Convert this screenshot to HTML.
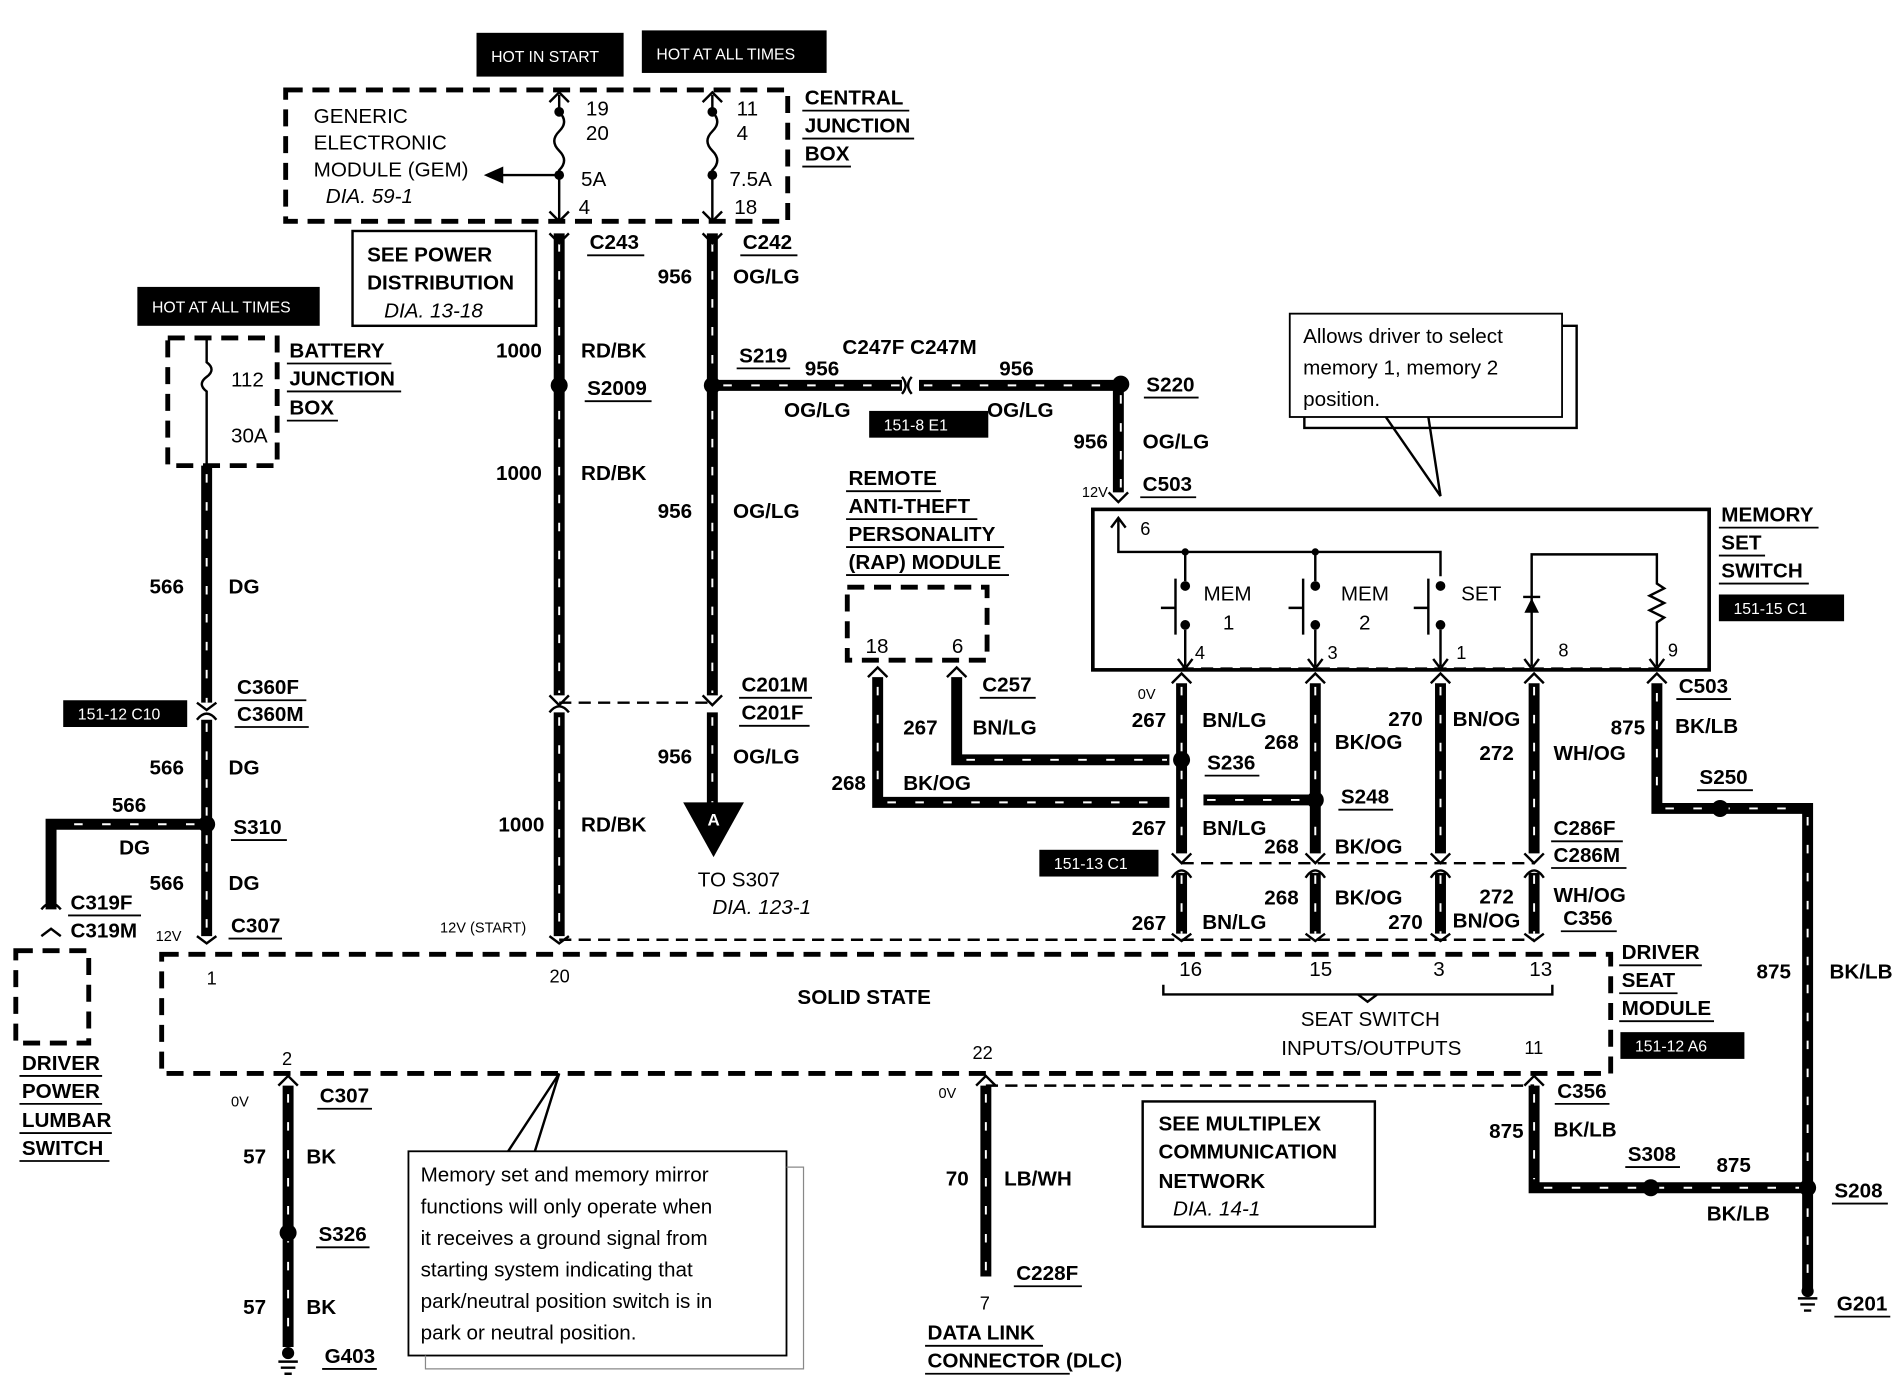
<!DOCTYPE html>
<html><head><meta charset="utf-8"><style>
html,body{margin:0;padding:0;background:#fff}
svg{display:block}
text{font-family:"Liberation Sans",Arial,sans-serif;font-weight:bold;font-size:17px;fill:#000}
.n{font-weight:normal}
.i{font-style:italic;font-weight:normal}
.s{font-size:13px;font-weight:normal;fill:#fff}
.w{stroke:#000;stroke-width:9;fill:none}
.ws{stroke:#fff;stroke-width:1.6;fill:none;stroke-dasharray:7 16}
.d{stroke:#000;stroke-width:4;fill:none;stroke-dasharray:14 8}
.dt{stroke:#000;stroke-width:2;fill:none;stroke-dasharray:10 6}
.l{stroke:#000;stroke-width:2;fill:none}
.u{stroke:#000;stroke-width:1.5}
</style></head><body>
<svg width="1900" height="1392" viewBox="0 0 1563 1145" preserveAspectRatio="none" xmlns="http://www.w3.org/2000/svg">
<!-- top black tags -->
<rect x="392" y="27" width="121" height="36" fill="#000"/><text x="404" y="51" class="s">HOT IN START</text>
<rect x="528" y="25" width="152" height="35" fill="#000"/><text x="540" y="49" class="s">HOT AT ALL TIMES</text>
<rect x="113" y="236" width="150" height="32" fill="#000"/><text x="125" y="257" class="s">HOT AT ALL TIMES</text>
<!-- central junction box -->
<path class="d" d="M235 74H648V182H235Z"/>
<text x="258" y="101" class="n">GENERIC</text><text x="258" y="123" class="n">ELECTRONIC</text><text x="258" y="145" class="n">MODULE (GEM)</text><text x="268" y="167" class="i">DIA. 59-1</text>
<path class="l" d="M460 78v14q8 8 0 16q-8 8 0 16q8 8 0 16v42"/><path class="l" d="M586 78v14q8 8 0 16q-8 8 0 16q8 8 0 16v42"/>
<circle cx="460" cy="92" r="4"/><circle cx="460" cy="144" r="4"/><circle cx="586" cy="92" r="4"/><circle cx="586" cy="144" r="4"/>
<path class="l" d="M452 84l8-8 8 8M452 174l8 8 8-8M578 84l8-8 8 8M578 174l8 8 8-8"/>
<path class="l" stroke-width="3" d="M460 144H410"/><path d="M398 144l16-7v14z"/>
<text x="482" y="95" class="n">19</text><text x="482" y="115" class="n">20</text><text x="478" y="153" class="n">5A</text><text x="476" y="176" class="n">4</text>
<text x="606" y="95" class="n">11</text><text x="606" y="115" class="n">4</text><text x="600" y="153" class="n">7.5A</text><text x="604" y="176" class="n">18</text>
<text x="662" y="86">CENTRAL</text><line class="u" x1="660" y1="91" x2="748" y2="91"/>
<text x="662" y="109">JUNCTION</text><line class="u" x1="660" y1="114" x2="752" y2="114"/>
<text x="662" y="132">BOX</text><line class="u" x1="660" y1="137" x2="700" y2="137"/>
<!-- see power distribution -->
<rect x="290" y="190" width="151" height="78" fill="none" stroke="#000" stroke-width="2"/>
<text x="302" y="215">SEE POWER</text><text x="302" y="238">DISTRIBUTION</text><text x="316" y="261" class="i">DIA. 13-18</text>
<!-- battery junction box -->
<path class="d" d="M138 278H228V383H138Z"/>
<path class="l" d="M170 278v20q8 6 0 12q-8 6 0 12v61"/>
<text x="190" y="318" class="n">112</text><text x="190" y="364" class="n">30A</text>
<text x="238" y="294">BATTERY</text><line class="u" x1="236" y1="299" x2="322" y2="299"/>
<text x="238" y="317">JUNCTION</text><line class="u" x1="236" y1="322" x2="330" y2="322"/>
<text x="238" y="341">BOX</text><line class="u" x1="236" y1="346" x2="278" y2="346"/>
<!-- wires -->
<g>
<path class="w" d="M170 383V578M170 592V770"/><path class="ws" d="M170 390V578M170 595V770"/>
<path class="w" d="M170 678H42V748"/><path class="ws" d="M160 678H46"/>
<path class="w" d="M460 192V572M460 586V770"/><path class="ws" d="M460 200V570M460 590V770"/>
<path class="w" d="M586 192V572M586 586V662"/><path class="ws" d="M586 200V570M586 590V660"/>
<path class="w" d="M586 317H742M756 317H920V405"/><path class="ws" d="M595 317H742M760 317H915M922 325V405"/>
<path class="w" d="M722 557V660H962M787 557V625H962"/><path class="ws" d="M722 565V655M730 660H960M795 625H960"/>
<path class="w" d="M972 562V702M972 718V768M1082 562V702M1082 718V768M1185 562V702M1185 718V768M1262 562V702M1262 718V768"/>
<path class="ws" d="M972 565V700M972 720V768M1082 565V700M1082 720V768M1185 565V700M1185 720V768M1262 565V700M1262 720V768"/>
<path class="w" d="M990 658H1082"/><path class="ws" d="M993 658H1075"/>
<path class="w" d="M1363 562V665H1487V1060"/><path class="ws" d="M1363 570V660M1370 665H1480M1487 672V1060"/>
<path class="w" d="M237 893V1108"/><path class="ws" d="M237 900V1100"/>
<path class="w" d="M811 893V1050"/><path class="ws" d="M811 900V1045"/>
<path class="w" d="M1262 893V977H1487"/><path class="ws" d="M1262 900V970M1270 977H1480"/>
</g>
<!-- connector marks -->
<path class="l" stroke-width="3" d="M452 192l8 8 8-8M578 192l8 8 8-8M162 592q8-10 16 0M162 578l8 6 8-6M452 572l8 8 8-8M578 572l8 8 8-8M452 586q8-10 16 0M34 748q8-10 16 0M34 770l8-6 8 6M912 405l8 8 8-8M162 770l8 6 8-6M452 770l8 6 8-6M714 557l8-8 8 8M779 557l8-8 8 8"/>
<path class="l" stroke-width="3" d="M964 562l8-8 8 8M1074 562l8-8 8 8M1177 562l8-8 8 8M1254 562l8-8 8 8M1355 562l8-8 8 8M964 702l8 8 8-8M1074 702l8 8 8-8M1177 702l8 8 8-8M1254 702l8 8 8-8M964 722q8-12 16 0M1074 722q8-12 16 0M1177 722q8-12 16 0M1254 722q8-12 16 0M964 768l8 6 8-6M1074 768l8 6 8-6M1177 768l8 6 8-6M1254 768l8 6 8-6M229 893l8-8 8 8M803 893l8-8 8 8M1254 893l8-8 8 8"/>
<path d="M742 310q6 7 0 14M750 310q-6 7 0 14" class="l" stroke-width="3"/>
<line class="dt" x1="460" y1="578" x2="586" y2="578"/>
<line class="dt" x1="972" y1="710" x2="1262" y2="710"/>
<line class="dt" x1="972" y1="550" x2="1363" y2="550"/>
<line class="dt" x1="460" y1="773" x2="1262" y2="773"/>
<path class="dt" d="M811 893H1262"/>
<!-- splices -->
<circle cx="460" cy="317" r="7"/><circle cx="586" cy="317" r="7"/><circle cx="922" cy="316" r="7"/><circle cx="170" cy="678" r="7"/>
<circle cx="972" cy="625" r="7"/><circle cx="1082" cy="658" r="7"/><circle cx="1415" cy="665" r="7"/><circle cx="237" cy="1014" r="7"/>
<circle cx="1358" cy="977" r="7"/><circle cx="1487" cy="977" r="7"/>
<!-- A triangle -->
<path d="M562 660H612L587 705Z"/><text x="582" y="679" fill="#fff" style="fill:#fff;font-size:14px">A</text>
<text x="574" y="729" class="n">TO S307</text><text x="586" y="752" class="i">DIA. 123-1</text>
<!-- grounds -->
<g class="l"><path d="M229 1120h16M231 1125h12M234 1130h6M1479 1068h16M1481 1073h12M1484 1078h6"/></g>
<circle cx="237" cy="1113" r="5"/><circle cx="1487" cy="1062" r="5"/>
<!-- rap -->
<path class="d" d="M697 483H812V543H697Z"/>
<text x="712" y="537" class="n">18</text><text x="783" y="537" class="n">6</text>
<text x="698" y="399">REMOTE</text><line class="u" x1="696" y1="404" x2="774" y2="404"/>
<text x="698" y="422">ANTI-THEFT</text><line class="u" x1="696" y1="427" x2="804" y2="427"/>
<text x="698" y="445">PERSONALITY</text><line class="u" x1="696" y1="450" x2="826" y2="450"/>
<text x="698" y="468">(RAP) MODULE</text><line class="u" x1="696" y1="473" x2="830" y2="473"/>
<!-- memory set switch -->
<rect x="899" y="419" width="507" height="132" fill="none" stroke="#000" stroke-width="3"/>
<path class="l" d="M920 426V454H1185V474M975 454V478M1082 454V478M1260 548V456H1363V480l6 4-12 6 12 6-12 6 12 6-6 4V548"/>
<path class="l" d="M914 434l6-8 6 8"/>
<path class="l" d="M975 518V548M1082 518V548M1185 518V548M969 542l6 8 6-8M1076 542l6 8 6-8M1179 542l6 8 6-8M1254 542l6 8 6-8M1357 542l6 8 6-8"/>
<circle cx="975" cy="482" r="4"/><circle cx="975" cy="514" r="4"/><circle cx="1082" cy="482" r="4"/><circle cx="1082" cy="514" r="4"/><circle cx="1185" cy="482" r="4"/><circle cx="1185" cy="514" r="4"/>
<circle cx="975" cy="454" r="3"/><circle cx="1082" cy="454" r="3"/>
<path class="l" d="M967 476V522M955 500H967M1072 476V522M1060 500H1072M1175 476V522M1163 500H1175"/>
<path d="M1254 504h12l-6-12z"/><line class="l" x1="1253" y1="491" x2="1267" y2="491"/>
<text x="990" y="494" class="n">MEM</text><text x="1006" y="518" class="n">1</text>
<text x="1103" y="494" class="n">MEM</text><text x="1118" y="518" class="n">2</text>
<text x="1202" y="494" class="n">SET</text>
<text x="938" y="440" class="n" style="font-size:15px">6</text>
<text x="983" y="542" class="n" style="font-size:15px">4</text><text x="1092" y="542" class="n" style="font-size:15px">3</text><text x="1198" y="542" class="n" style="font-size:15px">1</text><text x="1282" y="540" class="n" style="font-size:15px">8</text><text x="1372" y="540" class="n" style="font-size:15px">9</text>
<text x="1416" y="429">MEMORY</text><line class="u" x1="1414" y1="434" x2="1496" y2="434"/>
<text x="1416" y="452">SET</text><line class="u" x1="1414" y1="457" x2="1452" y2="457"/>
<text x="1416" y="475">SWITCH</text><line class="u" x1="1414" y1="480" x2="1488" y2="480"/>
<rect x="1414" y="489" width="103" height="22" fill="#000"/><text x="1426" y="505" class="s">151-15 C1</text>
<!-- callout top -->
<rect x="1061" y="258" width="224" height="85" fill="#fff" stroke="#000" stroke-width="1.5"/>
<path class="l" stroke-width="1" d="M1285 268h12v84h-224v-9" stroke="#888"/>
<text x="1072" y="282" class="n">Allows driver to select</text><text x="1072" y="308" class="n">memory 1, memory 2</text><text x="1072" y="334" class="n">position.</text>
<path class="l" stroke-width="1.5" d="M1140 343L1185 408L1175 343"/>
<!-- solid state module -->
<path class="d" d="M133 785H1325V883H133Z"/>
<text x="656" y="826">SOLID STATE</text>
<text x="170" y="810" class="n" style="font-size:15px">1</text><text x="452" y="808" class="n" style="font-size:15px">20</text><text x="232" y="876" class="n" style="font-size:15px">2</text><text x="800" y="871" class="n" style="font-size:15px">22</text><text x="1254" y="867" class="n" style="font-size:15px">11</text>
<text x="970" y="803" class="n">16</text><text x="1077" y="803" class="n">15</text><text x="1179" y="803" class="n">3</text><text x="1258" y="803" class="n">13</text>
<path class="l" d="M957 810v8h320v-8M1117 818l8 6 8-6"/>
<text x="1070" y="844" class="n">SEAT SWITCH</text><text x="1054" y="868" class="n">INPUTS/OUTPUTS</text>
<text x="1334" y="789">DRIVER</text><line class="u" x1="1332" y1="794" x2="1400" y2="794"/>
<text x="1334" y="812">SEAT</text><line class="u" x1="1332" y1="817" x2="1380" y2="817"/>
<text x="1334" y="835">MODULE</text><line class="u" x1="1332" y1="840" x2="1410" y2="840"/>
<rect x="1333" y="849" width="102" height="22" fill="#000"/><text x="1345" y="865" class="s">151-12 A6</text>
<!-- lumbar -->
<path class="d" d="M13 782H73V858H13Z"/>
<text x="18" y="880">DRIVER</text><line class="u" x1="16" y1="885" x2="84" y2="885"/>
<text x="18" y="903">POWER</text><line class="u" x1="16" y1="908" x2="84" y2="908"/>
<text x="18" y="927">LUMBAR</text><line class="u" x1="16" y1="932" x2="92" y2="932"/>
<text x="18" y="950">SWITCH</text><line class="u" x1="16" y1="955" x2="90" y2="955"/>
<!-- black tags -->
<rect x="52" y="576" width="102" height="22" fill="#000"/><text x="64" y="592" class="s">151-12 C10</text>
<rect x="715" y="338" width="98" height="22" fill="#000"/><text x="727" y="354" class="s">151-8 E1</text>
<rect x="855" y="699" width="98" height="22" fill="#000"/><text x="867" y="715" class="s">151-13 C1</text>
<!-- wire labels -->
<text x="123" y="488">566</text><text x="188" y="488">DG</text>
<text x="195" y="571">C360F</text><line class="u" x1="193" y1="576" x2="252" y2="576"/><text x="195" y="593">C360M</text><line class="u" x1="193" y1="598" x2="254" y2="598"/>
<text x="123" y="637">566</text><text x="188" y="637">DG</text>
<text x="92" y="668">566</text><text x="98" y="703">DG</text>
<text x="192" y="686">S310</text><line class="u" x1="190" y1="691" x2="236" y2="691"/>
<text x="123" y="732">566</text><text x="188" y="732">DG</text>
<text x="58" y="748">C319F</text><line class="u" x1="56" y1="753" x2="116" y2="753"/><text x="58" y="771">C319M</text>
<text x="128" y="774" class="n" style="font-size:12px">12V</text>
<text x="190" y="767">C307</text><line class="u" x1="188" y1="772" x2="232" y2="772"/>
<text x="362" y="767" class="n" style="font-size:12px">12V (START)</text>
<text x="485" y="205">C243</text><line class="u" x1="483" y1="210" x2="530" y2="210"/>
<text x="611" y="205">C242</text><line class="u" x1="609" y1="210" x2="656" y2="210"/>
<text x="541" y="233">956</text><text x="603" y="233">OG/LG</text>
<text x="408" y="294">1000</text><text x="478" y="294">RD/BK</text>
<text x="483" y="325">S2009</text><line class="u" x1="481" y1="330" x2="536" y2="330"/>
<text x="608" y="298">S219</text><line class="u" x1="606" y1="303" x2="650" y2="303"/>
<text x="662" y="309">956</text><text x="693" y="291">C247F C247M</text><text x="822" y="309">956</text>
<text x="645" y="343">OG/LG</text><text x="812" y="343">OG/LG</text>
<text x="943" y="322">S220</text><line class="u" x1="941" y1="327" x2="986" y2="327"/>
<text x="883" y="369">956</text><text x="940" y="369">OG/LG</text>
<text x="890" y="409" class="n" style="font-size:12px">12V</text>
<text x="940" y="404">C503</text><line class="u" x1="938" y1="409" x2="984" y2="409"/>
<text x="408" y="395">1000</text><text x="478" y="395">RD/BK</text>
<text x="541" y="426">956</text><text x="603" y="426">OG/LG</text>
<text x="610" y="569">C201M</text><line class="u" x1="608" y1="574" x2="668" y2="574"/><text x="610" y="592">C201F</text><line class="u" x1="608" y1="597" x2="666" y2="597"/>
<text x="541" y="628">956</text><text x="603" y="628">OG/LG</text>
<text x="410" y="684">1000</text><text x="478" y="684">RD/BK</text>
<text x="808" y="569">C257</text><line class="u" x1="806" y1="574" x2="852" y2="574"/>
<text x="743" y="604">267</text><text x="800" y="604">BN/LG</text>
<text x="684" y="650">268</text><text x="743" y="650">BK/OG</text>
<text x="936" y="575" class="n" style="font-size:12px">0V</text>
<text x="931" y="598">267</text><text x="989" y="598">BN/LG</text>
<text x="1040" y="616">268</text><text x="1098" y="616">BK/OG</text>
<text x="1142" y="597">270</text><text x="1195" y="597">BN/OG</text>
<text x="1217" y="625">272</text><text x="1278" y="625">WH/OG</text>
<text x="1325" y="604">875</text><text x="1378" y="603">BK/LB</text>
<text x="1381" y="570">C503</text><line class="u" x1="1379" y1="575" x2="1424" y2="575"/>
<text x="993" y="633">S236</text><line class="u" x1="991" y1="638" x2="1036" y2="638"/>
<text x="1103" y="661">S248</text><line class="u" x1="1101" y1="666" x2="1146" y2="666"/>
<text x="1398" y="645">S250</text><line class="u" x1="1396" y1="650" x2="1442" y2="650"/>
<text x="931" y="687">267</text><text x="989" y="687">BN/LG</text>
<text x="1040" y="702">268</text><text x="1098" y="702">BK/OG</text>
<text x="1278" y="687">C286F</text><line class="u" x1="1276" y1="692" x2="1335" y2="692"/><text x="1278" y="709">C286M</text><line class="u" x1="1276" y1="714" x2="1338" y2="714"/>
<text x="1040" y="744">268</text><text x="1098" y="744">BK/OG</text>
<text x="1217" y="743">272</text><text x="1278" y="742">WH/OG</text>
<text x="1286" y="761">C356</text><line class="u" x1="1284" y1="766" x2="1330" y2="766"/>
<text x="931" y="765">267</text><text x="989" y="764">BN/LG</text>
<text x="1142" y="764">270</text><text x="1195" y="763">BN/OG</text>
<text x="1445" y="805">875</text><text x="1505" y="805">BK/LB</text>
<text x="190" y="910" class="n" style="font-size:12px">0V</text>
<text x="263" y="907">C307</text><line class="u" x1="261" y1="912" x2="306" y2="912"/>
<text x="200" y="957">57</text><text x="252" y="957">BK</text>
<text x="262" y="1021">S326</text><line class="u" x1="260" y1="1026" x2="304" y2="1026"/>
<text x="200" y="1081">57</text><text x="252" y="1081">BK</text>
<text x="267" y="1121">G403</text><line class="u" x1="265" y1="1126" x2="310" y2="1126"/>
<text x="772" y="903" class="n" style="font-size:12px">0V</text>
<text x="778" y="975">70</text><text x="826" y="975">LB/WH</text>
<text x="836" y="1053">C228F</text><line class="u" x1="834" y1="1058" x2="890" y2="1058"/>
<text x="806" y="1077" class="n" style="font-size:15px">7</text>
<text x="763" y="1102">DATA LINK</text><line class="u" x1="761" y1="1107" x2="858" y2="1107"/>
<text x="763" y="1125">CONNECTOR (DLC)</text><line class="u" x1="761" y1="1130" x2="880" y2="1130"/>
<text x="1281" y="903">C356</text><line class="u" x1="1279" y1="908" x2="1324" y2="908"/>
<text x="1225" y="936">875</text><text x="1278" y="935">BK/LB</text>
<text x="1339" y="955">S308</text><line class="u" x1="1337" y1="960" x2="1382" y2="960"/>
<text x="1412" y="964">875</text><text x="1404" y="1004">BK/LB</text>
<text x="1509" y="985">S208</text><line class="u" x1="1507" y1="990" x2="1553" y2="990"/>
<text x="1511" y="1078">G201</text><line class="u" x1="1509" y1="1083" x2="1555" y2="1083"/>
<!-- multiplex box -->
<rect x="940" y="906" width="191" height="103" fill="none" stroke="#000" stroke-width="2"/>
<text x="953" y="930">SEE MULTIPLEX</text><text x="953" y="953">COMMUNICATION</text><text x="953" y="977">NETWORK</text><text x="965" y="1000" class="i">DIA. 14-1</text>
<!-- callout bottom -->
<rect x="336" y="947" width="311" height="168" fill="#fff" stroke="#000" stroke-width="1.5"/>
<path stroke="#888" stroke-width="1" fill="none" d="M647 960h14v166H350v-11"/>
<path class="l" stroke-width="1.5" d="M418 947L460 883L440 947"/>
<text x="346" y="972" class="n">Memory set and memory mirror</text>
<text x="346" y="998" class="n">functions will only operate when</text>
<text x="346" y="1024" class="n">it receives a ground signal from</text>
<text x="346" y="1050" class="n">starting system indicating that</text>
<text x="346" y="1076" class="n">park/neutral position switch is in</text>
<text x="346" y="1102" class="n">park or neutral position.</text>
</svg>
</body></html>
